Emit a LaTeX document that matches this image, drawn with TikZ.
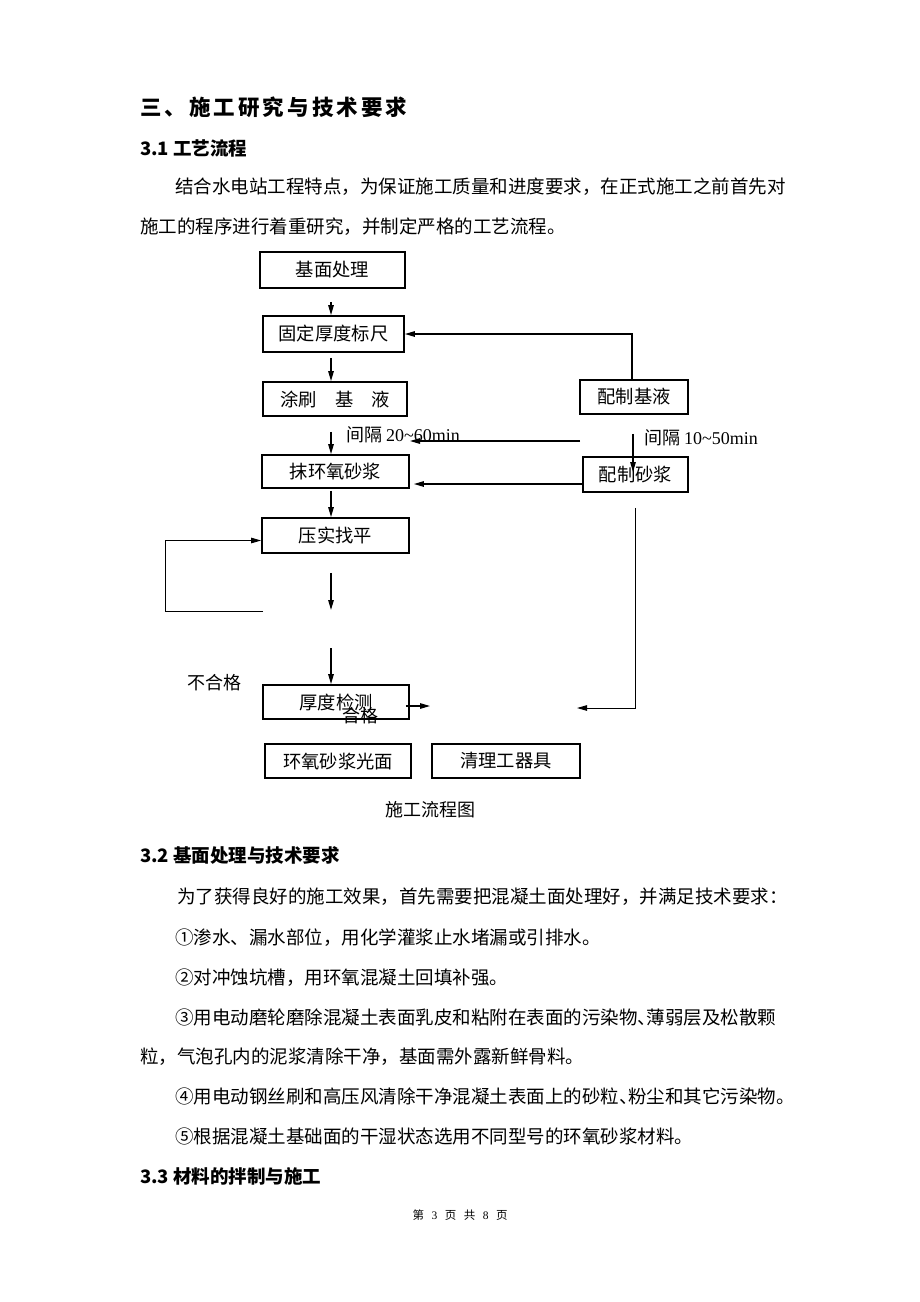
\documentclass[tikz,border=0pt]{standalone}
\usepackage{fontspec}
\setmainfont{Noto Sans CJK SC}
\newfontfamily\lat{Liberation Serif}
\usetikzlibrary{arrows.meta,calc}
\newcommand\fsz[1]{\fontsize{#1}{#1}\selectfont}
\begin{document}
\begin{tikzpicture}[x=1pt,y=-1pt,
  box/.style={draw, line width=1.8pt, inner sep=0pt, font=\fsz{18.3}},
  txt/.style={anchor=base west, inner sep=0pt, font=\fsz{18.5}},
  hd/.style={anchor=base west, inner sep=0pt, font=\fsz{18.5}\bfseries},
  lab/.style={anchor=west, inner sep=0pt, font=\fsz{18}},
  arr/.style={line width=1.3pt, -{Triangle[length=10pt,width=5.5pt]}},
  thinarr/.style={line width=1pt, -{Triangle[length=10pt,width=5.5pt]}}]
\fill[white] (0,0) rectangle (920,1302);
\useasboundingbox (0,0) rectangle (920,1302);

% page text
\node[anchor=base west, inner sep=0pt, font=\fsz{21.5}\bfseries] (title) at (140,115)
  {\makebox[267pt][s]{三\hfill 、\hfill 施\hfill 工\hfill 研\hfill 究\hfill 与\hfill 技\hfill 术\hfill 要\hfill 求}};
\node[hd] (h31) at (140,155) {3.1 工艺流程};
\node[txt] (p1) at (175,193) {结合水电站工程特点，为保证施工质量和进度要求，在正式施工之前首先对};
\node[txt] (p2) at (140,233) {施工的程序进行着重研究，并制定严格的工艺流程。};

% flowchart boxes
\node[box, minimum width=145pt, minimum height=36pt] (b1) at (332.5,270) {基面处理};
\node[box, minimum width=141pt, minimum height=36pt] (b2) at (333.5,334) {固定厚度标尺};
\node[box, minimum width=144pt, minimum height=34pt] (b3) at (335,399) {涂刷\quad 基\quad 液};
\node[box, minimum width=147pt, minimum height=33pt] (b4) at (335.5,471.5) {抹环氧砂浆};
\node[box, minimum width=147pt, minimum height=35pt] (b5) at (335.5,535.5) {压实找平};
\node[box, minimum width=146pt, minimum height=34pt] (b6) at (336,702) {厚度检测};
\node[box, minimum width=146pt, minimum height=34pt] (b7) at (338,761) {环氧砂浆光面};
\node[box, minimum width=148pt, minimum height=34pt] (b8) at (506,761) {清理工器具};
\node[box, minimum width=108pt, minimum height=34pt] (r1) at (634,397) {配制基液};
\node[box, minimum width=105pt, minimum height=35pt] (r2) at (635.5,474.5) {配制砂浆};

% labels
\node[lab] (l1) at (346,435) {间隔 {\lat 20\textasciitilde 60min}};
\node[lab] (l2) at (644,438) {间隔 {\lat 10\textasciitilde 50min}};
\node[lab] (l3) at (187,683) {不合格};
\begin{scope}
  \clip (330,700) rectangle (400,723);
  \node[font=\fsz{18}, inner sep=0pt] (hg) at (360,716) {合格};
\end{scope}
\node[font=\fsz{18}, inner sep=0pt] (cap) at (430,810) {施工流程图};

% connectors
\coordinate (cx) at (331,0);
\coordinate (c632) at (632,0);
\coordinate (c633) at (633,0);
\coordinate (y484) at (0,484);
\coordinate (f1) at (331,610);
\coordinate (f2) at (263,611);
\coordinate (f3) at (165,611);
\coordinate (f4) at (331,648);
\coordinate (f5) at (430,706);
\coordinate (f6) at (580,441);
\coordinate (f7) at (410,441);
\coordinate (f8) at (577,708);

\draw[arr, shorten <=13pt] (b1.south -| cx) -- (b2.north -| cx);
\draw[arr, shorten <=5pt] (b2.south -| cx) -- (b3.north -| cx);
\draw[arr, shorten <=15pt] (b3.south -| cx) -- (b4.north -| cx);
\draw[arr, shorten <=2pt] (b4.south -| cx) -- (b5.north -| cx);
\draw[arr, shorten <=19pt] (b5.south -| cx) -- (f1);
\draw[thinarr] (f2) -- (f3) |- ($(b5.west)+(0,5)$);
\draw[arr] (f4) -- (b6.north -| cx);
\draw[arr] ($(b6.east)+(-4,4)$) -- (f5);
\draw[arr] (f6) -- (f7);
\draw[arr] (r1.north -| c632) |- (b2.east);
\draw[arr, shorten <=19pt, shorten >=2.5pt] (r1.south -| c633) -- (r2.center -| c633);
\draw[arr, shorten >=4pt] (r2.west |- y484) -- (b4.east |- y484);
\draw[thinarr, shorten <=15pt] (r2.south) |- (f8);

% lower text
\node[hd] (h32) at (140,862) {3.2 基面处理与技术要求};
\node[txt] (q0) at (177,903) {为了获得良好的施工效果，首先需要把混凝土面处理好，并满足技术要求：};
\node[txt] (q1) at (175,944) {①渗水、漏水部位，用化学灌浆止水堵漏或引排水。};
\node[txt] (q2) at (175,984) {②对冲蚀坑槽，用环氧混凝土回填补强。};
\node[txt] (q3) at (175,1024) {③用电动磨轮磨除混凝土表面乳皮和粘附在表面的污染物\makebox[9pt][l]{、}薄弱层及松散颗};
\node[txt] (q4) at (140,1063) {粒，气泡孔内的泥浆清除干净，基面需外露新鲜骨料。};
\node[txt] (q5) at (175,1103) {④用电动钢丝刷和高压风清除干净混凝土表面上的砂粒\makebox[9pt][l]{、}粉尘和其它污染物。};
\node[txt] (q6) at (175,1143) {⑤根据混凝土基础面的干湿状态选用不同型号的环氧砂浆材料。};
\node[hd] (h33) at (140,1183) {3.3 材料的拌制与施工};

\node[font=\fsz{11.5}, inner sep=0pt] (foot) at (460,1215)
  {第\hspace{7.5pt}{\lat 3}\hspace{7.5pt}页\hspace{7.5pt}共\hspace{7.5pt}{\lat 8}\hspace{7.5pt}页};
\end{tikzpicture}
\end{document}
